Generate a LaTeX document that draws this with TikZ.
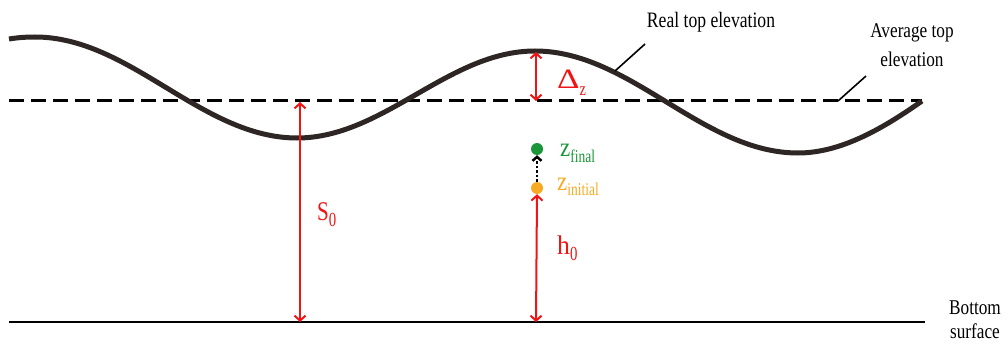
\documentclass[tikz,border=0pt]{standalone}
\usepackage{fontspec}
\setmainfont{Liberation Serif}
\usetikzlibrary{arrows.meta}
\definecolor{wavecol}{RGB}{45,38,36}
\definecolor{redc}{RGB}{240,20,20}
\definecolor{greenc}{RGB}{25,150,55}
\definecolor{orangec}{RGB}{247,170,35}
\newcommand\cnd[2]{\scalebox{#1}[1]{#2}}
\newcommand\fsz[1]{\fontsize{#1}{#1}\selectfont}
\tikzset{
  lbl/.style={inner sep=0pt, font=\fontsize{22}{28}\selectfont},
  leader/.style={line width=1.6pt, black},
  redarrow/.style={line width=2pt, redc, {Straight Barb[length=5pt,width=11pt]}-{Straight Barb[length=5pt,width=11pt]}},
  dotmark/.style={circle, inner sep=0pt, minimum size=12pt},
}
\begin{document}
\begin{tikzpicture}[x=1pt,y=-1pt]
\useasboundingbox (0,0) rectangle (1006,350);
% average (dashed) line
\coordinate (avgL) at (9,101);
\coordinate (avgR) at (922,101);
\draw[line width=3pt, dash pattern=on 15pt off 7pt] (avgL) -- (avgR);
% wave
\coordinate (w0) at (9,39);
\coordinate (c1) at (35,37);
\coordinate (t1) at (297,138);
\coordinate (c2) at (535,51);
\coordinate (t2) at (798,153);
\coordinate (wend) at (922,101);
\draw[wavecol, line width=5pt]
  (w0) .. controls (18,37.5) and (27,37) .. (c1)
  .. controls (130.4,37) and (201.6,138) .. (t1)
  .. controls (383.7,138) and (448.3,51) .. (c2)
  .. controls (630.8,51) and (702.2,153) .. (t2)
  .. controls (842,153) and (885,127) .. (wend);
% bottom surface
\coordinate (botL) at (9,322);
\coordinate (botR) at (925,322);
\draw[line width=2pt] (botL) -- (botR);

% labels
\node[lbl] (real) at (711,22) {\cnd{0.8}{Real top elevation}};
\node[lbl, font=\fontsize{21}{29}\selectfont, align=center] (avg) at (912,45) {\cnd{0.82}{Average top}\\\cnd{0.82}{elevation}};
\node[lbl, font=\fontsize{21}{24}\selectfont, align=center] (bot) at (975,320) {\cnd{0.82}{Bottom}\\\cnd{0.82}{surface}};

% leaders
\coordinate (realA) at (645,44);
\coordinate (realB) at (615,71);
\draw[leader] (realA) -- (realB);
\coordinate (avgA) at (866,76);
\coordinate (avgB) at (838,101);
\draw[leader] (avgA) -- (avgB);

% red arrows
\coordinate (s0top) at (300,102);
\coordinate (s0bot) at (300,322);
\draw[redarrow] (s0top) -- (s0bot);
\coordinate (dztop) at (536,52);
\coordinate (dzbot) at (536,101);
\draw[redarrow] (dztop) -- (dzbot);

% dots
\node[dotmark, fill=greenc] (zf) at (537,149) {};
\node[dotmark, fill=orangec] (zi) at (537,188) {};
\draw[line width=2.5pt, dotted, -{Straight Barb[length=4pt,width=9pt]}] (zi.north) -- (zf.south);
\coordinate (h0bot) at (536,322);
\draw[redarrow] (zi.south) -- (h0bot);

% red labels
\node[inner sep=0pt, anchor=base west, text=redc] (s0) at (317,220)
  {\fsz{27}\cnd{0.78}{S}\raisebox{-6pt}{\fsz{20}\cnd{0.74}{0}}};
\node[inner sep=0pt, anchor=base west, text=redc] (dz) at (557,89)
  {\fsz{28}\cnd{1.25}{Δ}\raisebox{-6pt}{\fsz{19}\cnd{0.75}{z}}};
\node[inner sep=0pt, anchor=base west, text=redc] (h0) at (557,254)
  {\fsz{27}\cnd{0.95}{h}\raisebox{-6pt}{\fsz{20}\cnd{0.74}{0}}};
\node[inner sep=0pt, anchor=base west, text=greenc] (zfl) at (560,156)
  {\fsz{27}\cnd{0.85}{z}\raisebox{-6pt}{\fsz{18}\cnd{0.75}{final}}};
\node[inner sep=0pt, anchor=base west, text=orangec] (zil) at (557,190)
  {\fsz{27}\cnd{0.85}{z}\raisebox{-5pt}{\fsz{18}\cnd{0.75}{initial}}};
\end{tikzpicture}
\end{document}
